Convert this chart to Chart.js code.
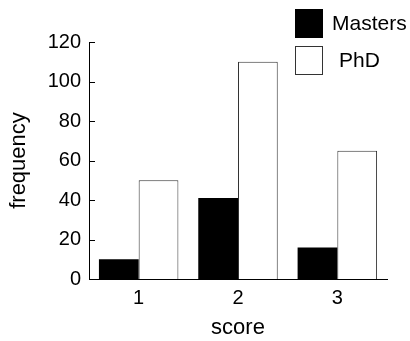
<!DOCTYPE html>
<html>
<head>
<meta charset="utf-8">
<script src="https://cdn.jsdelivr.net/npm/chart.js@4/dist/chart.umd.min.js"></script>
<style>
    html, body { margin: 0; padding: 0; background: #fff; }
    #scoreChart { display: block; }
</style>
</head>
<body>
<canvas id="scoreChart" width="410" height="341"></canvas>
<script>
var scoreLabels = ['1', '2', '3'];
var mastersValues = [10, 41, 16];
var phdValues = [50, 110, 65];
var seriesNames = ['Masters', 'PhD'];
var yTicks = [0, 20, 40, 60, 80, 100, 120];

var fontFamily = '"Liberation Sans", Arial, Helvetica, sans-serif';

// short tick marks pointing into the plot, like the original figure
var innerTicksPlugin = {
    id: 'innerTicks',
    afterDraw: function (chart) {
        var ctx = chart.ctx;
        var yScale = chart.scales.y;
        var x = chart.chartArea.left;

        ctx.save();
        ctx.strokeStyle = '#000';
        ctx.lineWidth = 1;
        yScale.ticks.forEach(function (tick) {
            var y = Math.round(yScale.getPixelForValue(tick.value)) + 0.5;
            ctx.beginPath();
            ctx.moveTo(x, y);
            ctx.lineTo(x + 6, y);
            ctx.stroke();
        });
        ctx.restore();
    }
};

// stacked legend in the top right corner
var boxLegendPlugin = {
    id: 'boxLegend',
    afterDraw: function (chart) {
        var ctx = chart.ctx;
        var left = 295;
        var top = 9;

        ctx.save();
        ctx.font = '21px ' + fontFamily;
        ctx.textBaseline = 'middle';
        chart.data.datasets.forEach(function (ds, i) {
            var y = top + i * 37;
            ctx.fillStyle = ds.backgroundColor;
            ctx.fillRect(left, y, 28, 29);
            ctx.strokeStyle = ds.borderColor;
            ctx.lineWidth = 1;
            ctx.strokeRect(left + 0.5, y + 0.5, 27, 28);
            ctx.fillStyle = '#000';
            ctx.fillText(ds.label, left + 37 + (i * 7), y + 15);
        });
        ctx.restore();
    }
};

var ctx = document.getElementById('scoreChart').getContext('2d');

var config = {
    type: 'bar',
    data: {
        labels: scoreLabels,
        datasets: [{
            label: seriesNames[0],
            data: mastersValues,
            backgroundColor: '#000',
            borderColor: '#000',
            borderWidth: 0
        }, {
            label: seriesNames[1],
            data: phdValues,
            backgroundColor: '#fff',
            borderColor: '#333',
            borderWidth: 1
        }]
    },
    options: {
        responsive: false,
        animation: false,
        categoryPercentage: 0.8,
        barPercentage: 1.0,
        layout: {
            padding: { top: 42, right: 23, left: 0, bottom: 0 }
        },
        plugins: {
            legend: { display: false },
            tooltip: { enabled: false }
        },
        scales: {
            x: {
                grid: { display: false, drawTicks: false },
                border: { display: true, color: '#000', width: 1 },
                ticks: {
                    color: '#000',
                    padding: 7,
                    font: { family: fontFamily, size: 20 }
                },
                title: {
                    display: true,
                    text: 'score',
                    color: '#000',
                    padding: { top: 0, bottom: 0 },
                    font: { family: fontFamily, size: 22 }
                },
                afterFit: function (scale) {
                    scale.height = 62;
                }
            },
            y: {
                min: 0,
                max: 120,
                afterBuildTicks: function (scale) {
                    scale.ticks = yTicks.map(function (v) { return { value: v }; });
                },
                grid: { display: false, drawTicks: false },
                border: { display: true, color: '#000', width: 1 },
                ticks: {
                    color: '#000',
                    padding: 8,
                    font: { family: fontFamily, size: 20 }
                },
                title: {
                    display: true,
                    text: 'frequency',
                    color: '#000',
                    padding: { top: 6, bottom: 0 },
                    font: { family: fontFamily, size: 22 }
                },
                afterFit: function (scale) {
                    scale.width = 89;
                }
            }
        }
    },
    plugins: [innerTicksPlugin, boxLegendPlugin]
};

var scoreChart = new Chart(ctx, config);
</script>
</body>
</html>
